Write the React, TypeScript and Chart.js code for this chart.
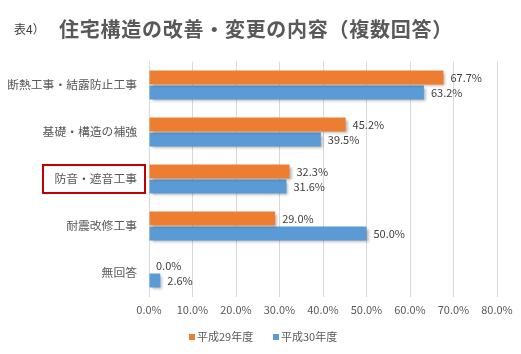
import React, { useEffect, useRef } from "react";
import { Chart, registerables } from "chart.js";

Chart.register(...registerables);

const categories = ["断熱工事・結露防止工事", "基礎・構造の補強", "防音・遮音工事", "耐震改修工事", "無回答"];
const seriesNames = ["平成29年度", "平成30年度"];
const h29 = [67.7, 45.2, 32.3, 29.0, 0.0];
const h30 = [63.2, 39.5, 31.6, 50.0, 2.6];
const xTicks = [0, 10, 20, 30, 40, 50, 60, 70, 80];
const titlePrefix = "表4）";
const titleText = "住宅構造の改善・変更の内容（複数回答）";
const highlighted = "防音・遮音工事";

const ORANGE = "#ED7D31";
const BLUE = "#5B9BD5";
const FONT = '"Noto Sans CJK JP", "Noto Sans", sans-serif';

export default function App() {
  const ref = useRef<HTMLCanvasElement | null>(null);
  useEffect(() => {
    if (!ref.current) return;
    const overlay = {
      id: "overlay",
      beforeDatasetDraw(chart: any) {
        const ctx = chart.ctx;
        ctx.save();
        ctx.shadowColor = "rgba(0,0,0,0.35)";
        ctx.shadowBlur = 3;
        ctx.shadowOffsetX = 2;
        ctx.shadowOffsetY = 2;
      },
      afterDatasetDraw(chart: any) {
        chart.ctx.restore();
      },
      afterDraw(chart: any) {
        const ctx = chart.ctx;
        ctx.save();
        // data labels
        ctx.font = `11px ${FONT}`;
        ctx.fillStyle = "#404040";
        ctx.textBaseline = "middle";
        ctx.textAlign = "left";
        chart.data.datasets.forEach((ds: any, di: number) => {
          const meta = chart.getDatasetMeta(di);
          meta.data.forEach((bar: any, i: number) => {
            const v = ds.data[i];
            ctx.fillText(v.toFixed(1) + "%", bar.x + 7, bar.y);
          });
        });
        // title
        ctx.fillStyle = "#404040";
        ctx.font = `12px ${FONT}`;
        ctx.textBaseline = "middle";
        ctx.fillText(titlePrefix, 14, 29);
        ctx.fillStyle = "#595959";
        ctx.font = `bold 20px ${FONT}`;
        const w = ctx.measureText(titleText).width;
        const target = 394;
        const n = Array.from(titleText).length;
        (ctx as any).letterSpacing = `${Math.max(0, (target - w) / n)}px`;
        ctx.fillText(titleText, 59, 29);
        (ctx as any).letterSpacing = "0px";
        // highlight box
        const yScale = chart.scales.y;
        const idx = categories.indexOf(highlighted);
        const cy = yScale.getPixelForValue(idx);
        ctx.strokeStyle = "#C00000";
        ctx.lineWidth = 2;
        ctx.strokeRect(43, cy - 14, 102, 28);
        // legend
        ctx.font = `11px ${FONT}`;
        ctx.textBaseline = "middle";
        const ly = 337;
        ctx.fillStyle = ORANGE;
        ctx.fillRect(189, ly - 3, 6, 6);
        ctx.fillStyle = "#595959";
        ctx.fillText(seriesNames[0], 197, ly);
        ctx.fillStyle = BLUE;
        ctx.fillRect(273, ly - 3, 6, 6);
        ctx.fillStyle = "#595959";
        ctx.fillText(seriesNames[1], 281, ly);
        ctx.restore();
      },
    };
    const chart = new Chart(ref.current, {
      type: "bar",
      data: {
        labels: categories,
        datasets: [
          { label: seriesNames[0], data: h29, backgroundColor: ORANGE, barPercentage: 0.92, categoryPercentage: 0.64 },
          { label: seriesNames[1], data: h30, backgroundColor: BLUE, barPercentage: 0.92, categoryPercentage: 0.64 },
        ],
      },
      options: {
        indexAxis: "y",
        animation: false,
        responsive: false,
        maintainAspectRatio: false,
        layout: { padding: { left: 0, right: 24, top: 61.5, bottom: 37.5 } },
        plugins: { legend: { display: false }, tooltip: { enabled: false }, title: { display: false } },
        scales: {
          x: {
            min: 0,
            max: 80,
            afterBuildTicks(scale: any) {
              scale.ticks = xTicks.map((v) => ({ value: v }));
            },
            afterFit(scale: any) {
              scale.height = 20;
            },
            grid: { color: "#D9D9D9", drawTicks: false },
            border: { display: false },
            ticks: {
              padding: 7,
              color: "#595959",
              font: { family: FONT, size: 11 },
              callback: (v: any) => Number(v).toFixed(1) + "%",
            },
          },
          y: {
            afterFit(scale: any) {
              scale.width = 149;
            },
            grid: { display: false, drawTicks: false },
            border: { display: true, color: "#D9D9D9" },
            ticks: {
              padding: 12,
              color: "#595959",
              font: { family: FONT, size: 11.8 },
            },
          },
        },
      },
      plugins: [overlay],
    } as any);
    return () => chart.destroy();
  }, []);
  return (
    <div style={{ position: "fixed", left: 0, top: 0, width: 521, height: 354, background: "#fff" }}>
      <canvas ref={ref} width={521} height={354} style={{ width: 521, height: 354 }} />
    </div>
  );
}
